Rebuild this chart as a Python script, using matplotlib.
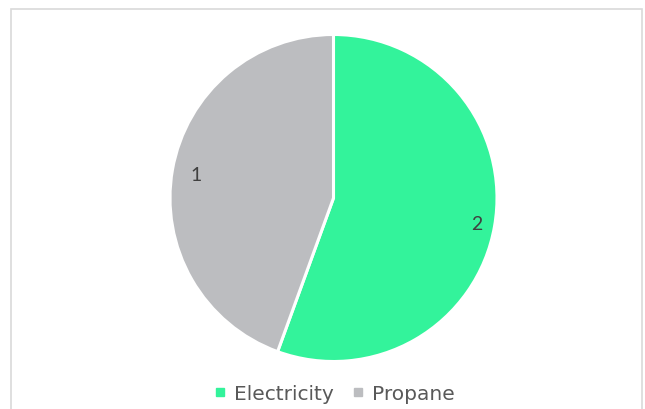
import matplotlib.pyplot as plt
import numpy as np
from matplotlib.lines import Line2D
from matplotlib.patches import Rectangle

# Heating fuel counts
categories = ['Electricity', 'Propane']
values = [1.5, 1.2]
colors = ['#33F39B', '#BCBDC0']
label_dist = [0.89, 0.855]

W, H = 645, 409
CX, CY, R = 333.5, H - 198, 163.5

fig = plt.figure(figsize=(W / 100, H / 100), dpi=100)
ax = fig.add_axes([0, 0, 1, 1])

# chart frame (runs off the bottom edge)
ax.add_patch(Rectangle((10.5, -5), 631, H - 8.5 + 5, fill=False,
                       edgecolor='#D9D9D9', linewidth=1.2))

wedges, _ = ax.pie(
    values, colors=colors, startangle=90, counterclock=False,
    center=(CX, CY), radius=R, frame=True,
    wedgeprops=dict(edgecolor='white', linewidth=2.2),
)
# pie() sets its own limits when frame=True; restore pixel units
ax.set_xlim(0, W)
ax.set_ylim(0, H)
ax.set_aspect('auto')
ax.axis('off')

# value labels inside each slice
for w, v, d in zip(wedges, values, label_dist):
    mid = np.deg2rad((w.theta1 + w.theta2) / 2)
    ax.text(CX + d * R * np.cos(mid), CY + d * R * np.sin(mid), f'{round(v)}',
            ha='center', va='center_baseline', fontsize=14, color='#404040',
            family='Lato')

handles = [Line2D([], [], marker='s', linestyle='none', markersize=6,
                  markerfacecolor=c, markeredgecolor=c) for c in colors]
fig.legend(handles, categories, loc='center', bbox_to_anchor=(335 / W, 1 - 394 / H),
           ncol=2, frameon=False, handlelength=0.4, handletextpad=0.5,
           columnspacing=1.0, prop=dict(family='DejaVu Sans', size=14.5),
           labelcolor='#595959')

fig.savefig('out.png', dpi=100)
